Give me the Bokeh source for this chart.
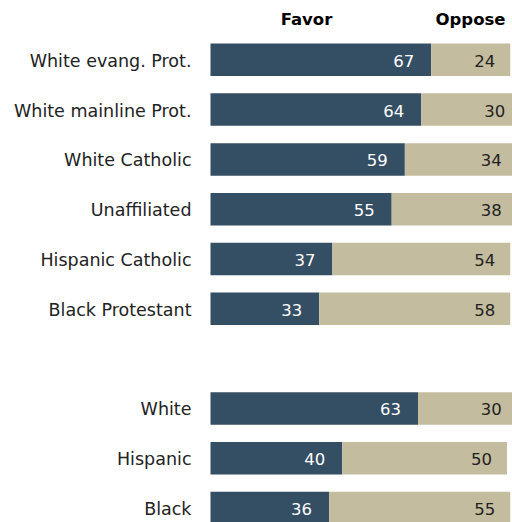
from bokeh.plotting import figure
from bokeh.models import Range1d, ColumnDataSource
from bokeh.core.properties import value
from bokeh.embed import file_html
from bokeh.resources import INLINE

groups = ["White evang. Prot.", "White mainline Prot.", "White Catholic",
          "Unaffiliated", "Hispanic Catholic", "Black Protestant",
          "White", "Hispanic", "Black"]
favor = [67, 64, 59, 55, 37, 33, 63, 40, 36]
oppose = [24, 30, 34, 38, 54, 58, 30, 50, 55]
headers = ["Favor", "Oppose"]

FAVOR_COLOR = "#344E64"
OPPOSE_COLOR = "#C4BC9F"
TEXT_COLOR = "#222222"
FONT = value("DejaVu Sans")

rows = [i if i < 6 else i + 1 for i in range(len(groups))]
total = [f + o for f, o in zip(favor, oppose)]

src = ColumnDataSource(dict(
    group=groups, favor=favor, oppose=oppose, row=rows, total=total,
    favor_s=[str(v) for v in favor], oppose_s=[str(v) for v in oppose],
    zero=[0] * len(groups),
))

p = figure(width=512, height=522,
           x_range=Range1d(-63.75, 91.68), y_range=Range1d(9.291, -1.191),
           output_backend="svg", toolbar_location=None, min_border=0)
p.axis.visible = False
p.grid.visible = False
p.outline_line_color = None
p.background_fill_color = "white"
p.border_fill_color = "white"

bar_h = 0.653
p.hbar(y="row", left="zero", right="favor", height=bar_h, source=src,
       fill_color=FAVOR_COLOR, line_color=None)
p.hbar(y="row", left="favor", right="total", height=bar_h, source=src,
       fill_color=OPPOSE_COLOR, line_color=None)

# category labels
p.text(x="zero", y="row", text="group", source=src, x_offset=-19, y_offset=1,
       text_align="right", text_baseline="middle", text_font=FONT,
       text_font_size="17.5px", text_color=TEXT_COLOR)

# values
p.text(x="favor", y="row", text="favor_s", source=src, x_offset=-17, y_offset=1,
       text_align="right", text_baseline="middle", text_font=FONT,
       text_font_size="16.5px", text_color="white")
p.text(x="total", y="row", text="oppose_s", source=src, x_offset=-15, y_offset=1,
       text_align="right", text_baseline="middle", text_font=FONT,
       text_font_size="16.5px", text_color=TEXT_COLOR)

# column headers
p.text(x=[0, 0], y=[0, 0], text=headers, x_offset=[96, 260], y_offset=-40,
       text_align="center", text_baseline="middle", text_font=FONT,
       text_font_style="bold", text_font_size="16.5px", text_color="black")

open("out.html", "w").write(file_html(p, INLINE))
